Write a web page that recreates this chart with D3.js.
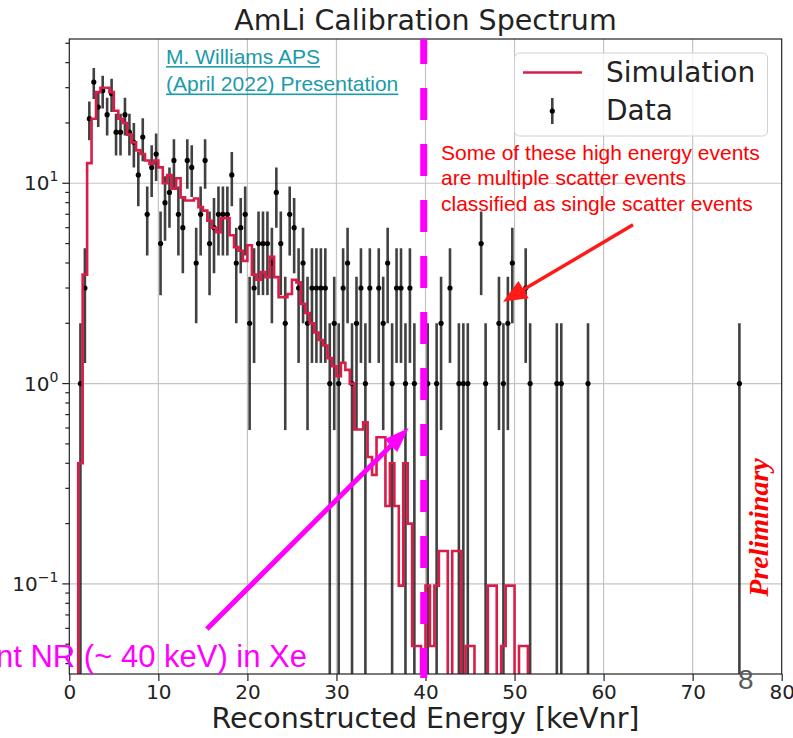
<!DOCTYPE html>
<html>
<head>
<meta charset="utf-8">
<script src="https://cdn.jsdelivr.net/npm/d3@7"></script>
<style>
  html, body { margin: 0; padding: 0; background: #fff; }
  svg { display: block; }
</style>
</head>
<body>
<div id="chart"></div>
<script>
// both histograms use 0.5 keVnr bins
const binWidth = 0.5;

// AmLi data: bin centres (keVnr) and counts per bin
const dataEnergy = [
  1.25, 1.75, 2.25, 2.75, 3.25, 3.75, 4.25, 4.75, 5.25, 5.75,
  6.25, 6.75, 7.25, 7.75, 8.25, 8.75, 9.25, 9.75, 10.25, 10.75,
  11.25, 11.75, 12.25, 12.75, 13.25, 13.75, 14.25, 14.75, 15.25, 15.75,
  16.25, 16.75, 17.25, 17.75, 18.25, 18.75, 19.25, 19.75, 20.25, 20.75,
  21.25, 21.75, 22.25, 22.75, 23.25, 23.75, 24.25, 24.75, 25.25, 25.75,
  26.25, 26.75, 27.25, 27.75, 28.25, 28.75, 29.25, 29.75, 30.25, 30.75,
  31.25, 31.75, 32.25, 32.75, 33.25, 33.75, 34.75, 35.25, 35.75, 36.25,
  36.75, 37.25, 37.75, 38.25, 38.75, 40.25, 41.25, 41.75, 42.75, 43.75,
  44.25, 44.75, 46.25, 46.75, 48.25, 48.75, 49.25, 49.75, 51.25, 51.75,
  54.75, 55.25, 58.25, 75.25
];
const dataCounts = [
  1, 3, 21, 32, 24, 29, 22, 28, 18, 18,
  22, 18, 16, 11, 17, 7, 12, 14, 5, 8,
  9, 13, 7, 6, 13, 12, 4, 7, 13, 5,
  6, 7, 7, 7, 11, 4, 6, 7, 2, 3,
  5, 5, 5, 4, 9, 5, 2, 7, 6, 3,
  4, 2, 3, 3, 3, 3, 1, 2, 1, 3,
  4, 1, 2, 3, 1, 3, 3, 2, 4, 1,
  3, 3, 1, 3, 1, 1, 1, 2, 3, 1,
  1, 1, 5, 1, 2, 1, 2, 4, 3, 1,
  1, 1, 1, 1
];

// simulation: first bin edge and scaled bin contents
const simStart = 1.0;
const simValues = [
  0.4, 3.5, 12.6, 21, 28.5, 30, 30, 28.5, 23, 21,
  20, 17.5, 16, 14.6, 14, 13, 12.5, 13, 12, 10,
  11, 9.4, 10.6, 8.5, 8.2, 8.2, 8.4, 7.6, 7.3, 6.5,
  6.0, 5.7, 6.7, 6.7, 5.5, 4.8, 4.6, 4.1, 4.9, 3.5,
  3.3, 3.6, 3.4, 4.3, 3.4, 2.7, 2.7, 2.8, 3.3, 3.2,
  2.5, 2.25, 2.0, 1.8, 1.65, 1.55, 1.34, 1.22, 1.09, 1.27,
  1.17, 1.0, 0.59, 0.59, 0.64, 0.43, 0.35, 0.54, 0.54, 0.245,
  0.4, 0.245, 0.098, 0.4, 0.2, 0.049, 0.049, 0, 0.098, 0.049,
  0.098, 0.146, 0.146, 0, 0.146, 0.146, 0, 0.049, 0.049, 0,
  0, 0, 0.098, 0.098, 0, 0.049, 0.098, 0.098, 0, 0.049,
  0.049
];

const xTicks = [0, 10, 20, 30, 40, 50, 60, 70, 80];
const yTicks = [0.1, 1, 10];
const yTickExponents = ['\u22121', '0', '1'];

// annotation anchors, in data units
const endpointE = 39.8;
const redArrow = {from: [63.3, 6.2], to: [48.7, 2.56]};
const pinkArrow = {from: [15.45, 0.0595], to: [38.1, 0.6]};

const W = 793, H = 738;
const plot = {left: 69.3, right: 781.7, top: 39, bottom: 674};
const mplFont = 'DejaVu Sans, sans-serif';
const slideFont = 'Liberation Sans, Arial, sans-serif';
const simColor = '#d81e48';

const x = d3.scaleLinear().domain([0, 80]).range([plot.left, plot.right]);
const y = d3.scaleLog().domain([0.0355, 52.5]).range([plot.bottom, plot.top]);
const yMin = y.domain()[0];

// values at or below the axis floor fall off the bottom
function yClamp(v) {
  return v > yMin ? y(v) : plot.bottom + 10;
}

const svg = d3.select('#chart').append('svg')
  .attr('width', W)
  .attr('height', H)
  .attr('font-family', mplFont);

svg.append('defs').append('clipPath').attr('id', 'plotclip')
  .append('rect')
  .attr('x', plot.left).attr('y', plot.top)
  .attr('width', plot.right - plot.left)
  .attr('height', plot.bottom - plot.top);

// grid
const grid = svg.append('g').attr('stroke', '#c4c4c4').attr('stroke-width', 1.2);
grid.selectAll('.gx').data(xTicks.slice(1, -1)).enter().append('line')
  .attr('x1', d => x(d)).attr('x2', d => x(d))
  .attr('y1', plot.top).attr('y2', plot.bottom);
grid.selectAll('.gy').data(yTicks).enter().append('line')
  .attr('x1', plot.left).attr('x2', plot.right)
  .attr('y1', d => y(d)).attr('y2', d => y(d));

const inner = svg.append('g').attr('clip-path', 'url(#plotclip)');

// data with poisson error bars
const data = dataEnergy.map((e, i) => ({e: e, n: dataCounts[i]}));
inner.append('g')
  .attr('stroke', '#111').attr('stroke-opacity', 0.8).attr('stroke-width', 2.6)
  .selectAll('line').data(data).enter().append('line')
  .attr('x1', d => x(d.e)).attr('x2', d => x(d.e))
  .attr('y1', d => yClamp(d.n - Math.sqrt(d.n)))
  .attr('y2', d => y(d.n + Math.sqrt(d.n)));
inner.append('g').attr('fill', '#000')
  .selectAll('circle').data(data).enter().append('circle')
  .attr('cx', d => x(d.e)).attr('cy', d => y(d.n)).attr('r', 2.6);

// simulation as a step outline
const simPts = [[simStart, 0]];
simValues.forEach((v, i) => {
  const e0 = simStart + i * binWidth;
  simPts.push([e0, v], [e0 + binWidth, v]);
});
simPts.push([simStart + simValues.length * binWidth, 0]);
inner.append('path')
  .attr('d', d3.line().x(d => x(d[0])).y(d => yClamp(d[1]))(simPts))
  .attr('fill', 'none')
  .attr('stroke', simColor)
  .attr('stroke-width', 2.6)
  .attr('stroke-linejoin', 'miter');

// frame
svg.append('rect')
  .attr('x', plot.left).attr('y', plot.top)
  .attr('width', plot.right - plot.left).attr('height', plot.bottom - plot.top)
  .attr('fill', 'none').attr('stroke', '#222').attr('stroke-width', 1.2);

// x axis
const xAxis = svg.append('g')
  .attr('transform', `translate(0,${plot.bottom})`)
  .call(d3.axisBottom(x).tickValues(xTicks).tickSize(7).tickPadding(4).tickFormat(d3.format('d')));
xAxis.select('.domain').remove();
xAxis.selectAll('.tick line').attr('stroke', '#222').attr('stroke-width', 1.2);
xAxis.selectAll('.tick text')
  .attr('font-family', mplFont).attr('font-size', 20).attr('fill', '#222');

// y axis: decades plus minor ticks
const minor = [];
[-2, -1, 0, 1].forEach(k => {
  for (let m = 2; m <= 9; m++) {
    const v = m * Math.pow(10, k);
    if (v > yMin && v < y.domain()[1]) minor.push(v);
  }
});
const yAxis = svg.append('g').attr('stroke', '#222').attr('stroke-width', 1.2);
yAxis.selectAll('.mj').data(yTicks).enter().append('line')
  .attr('x1', plot.left - 7).attr('x2', plot.left)
  .attr('y1', d => y(d)).attr('y2', d => y(d));
yAxis.selectAll('.mn').data(minor).enter().append('line')
  .attr('x1', plot.left - 4).attr('x2', plot.left)
  .attr('y1', d => y(d)).attr('y2', d => y(d));

const yLabels = svg.append('g').attr('fill', '#222').attr('font-size', 20);
yTicks.forEach((t, i) => {
  const txt = yLabels.append('text')
    .attr('x', plot.left - 11)
    .attr('y', y(t) + 7)
    .attr('text-anchor', 'end');
  txt.append('tspan').text('10');
  txt.append('tspan')
    .attr('font-size', 14)
    .attr('dy', -9)
    .text(yTickExponents[i]);
});

// titles
svg.append('text')
  .attr('x', (plot.left + plot.right) / 2).attr('y', 30)
  .attr('text-anchor', 'middle').attr('font-size', 28.5).attr('fill', '#222')
  .text('AmLi Calibration Spectrum');
svg.append('text')
  .attr('x', (plot.left + plot.right) / 2).attr('y', 728)
  .attr('text-anchor', 'middle').attr('font-size', 28.5).attr('fill', '#222')
  .text('Reconstructed Energy [keVnr]');

// legend
const lg = svg.append('g');
lg.append('rect')
  .attr('x', 514.5).attr('y', 53).attr('width', 253).attr('height', 83).attr('rx', 5)
  .attr('fill', '#fff').attr('fill-opacity', 0.8).attr('stroke', '#d0d0d0');
lg.append('line')
  .attr('x1', 523).attr('x2', 582).attr('y1', 72.5).attr('y2', 72.5)
  .attr('stroke', simColor).attr('stroke-width', 2.6);
lg.append('line')
  .attr('x1', 552.3).attr('x2', 552.3).attr('y1', 98).attr('y2', 124)
  .attr('stroke', '#111').attr('stroke-opacity', 0.8).attr('stroke-width', 2.6);
lg.append('circle').attr('cx', 552.3).attr('cy', 111).attr('r', 2.6).attr('fill', '#000');
lg.append('text').attr('x', 606).attr('y', 82).attr('font-size', 28).attr('fill', '#222').text('Simulation');
lg.append('text').attr('x', 606).attr('y', 119.5).attr('font-size', 28).attr('fill', '#222').text('Data');

// slide overlays
function arrow(from, to, width, headLen, headW, color) {
  const x1 = x(from[0]), y1 = y(from[1]), x2 = x(to[0]), y2 = y(to[1]);
  const ang = Math.atan2(y2 - y1, x2 - x1);
  const bx = x2 - headLen * Math.cos(ang), by = y2 - headLen * Math.sin(ang);
  const px = -Math.sin(ang) * headW / 2, py = Math.cos(ang) * headW / 2;
  svg.append('line')
    .attr('x1', x1).attr('y1', y1).attr('x2', bx + Math.cos(ang)).attr('y2', by + Math.sin(ang))
    .attr('stroke', color).attr('stroke-width', width);
  svg.append('path')
    .attr('d', `M${x2},${y2}L${bx + px},${by + py}L${bx - px},${by - py}Z`)
    .attr('fill', color);
}

svg.append('line')
  .attr('x1', x(endpointE)).attr('x2', x(endpointE))
  .attr('y1', plot.top).attr('y2', plot.bottom + 4)
  .attr('stroke', '#ff00ff').attr('stroke-width', 7)
  .attr('stroke-dasharray', '32,24').attr('stroke-dashoffset', 7);

arrow(redArrow.from, redArrow.to, 3.5, 24, 20, '#ff1a1a');
arrow(pinkArrow.from, pinkArrow.to, 5, 25, 18, '#ff00ff');

const note = svg.append('g').attr('font-family', slideFont).attr('font-size', 21).attr('fill', '#ff0000');
['Some of these high energy events', 'are multiple scatter events', 'classified as single scatter events']
  .forEach((s, i) => note.append('text').attr('x', 441).attr('y', 159.5 + i * 25.5).text(s));

const link = svg.append('g').attr('font-family', slideFont).attr('font-size', 21).attr('fill', '#1b9aaa');
['M. Williams APS', '(April 2022) Presentation'].forEach((s, i) => {
  const t = link.append('text').attr('x', 166).attr('y', 63.5 + i * 27.5).text(s);
  const w = t.node().getComputedTextLength();
  link.append('rect').attr('x', 166).attr('y', 66 + i * 27.5).attr('width', w).attr('height', 1.6);
});

svg.append('text')
  .attr('x', 307).attr('y', 667)
  .attr('text-anchor', 'end')
  .attr('font-family', slideFont).attr('font-size', 31).attr('fill', '#ff00ff')
  .text('Endpoint NR (~ 40 keV) in Xe');

svg.append('text')
  .attr('transform', 'translate(768,527.5) rotate(-90)')
  .attr('text-anchor', 'middle')
  .attr('font-family', 'Liberation Serif, Times New Roman, serif')
  .attr('font-size', 28).attr('font-weight', 'bold').attr('font-style', 'italic')
  .attr('fill', '#ff0000')
  .text('Preliminary');

svg.append('text')
  .attr('x', 738).attr('y', 689)
  .attr('font-family', slideFont).attr('font-size', 28).attr('fill', '#595959')
  .text('8');
</script>
</body>
</html>
